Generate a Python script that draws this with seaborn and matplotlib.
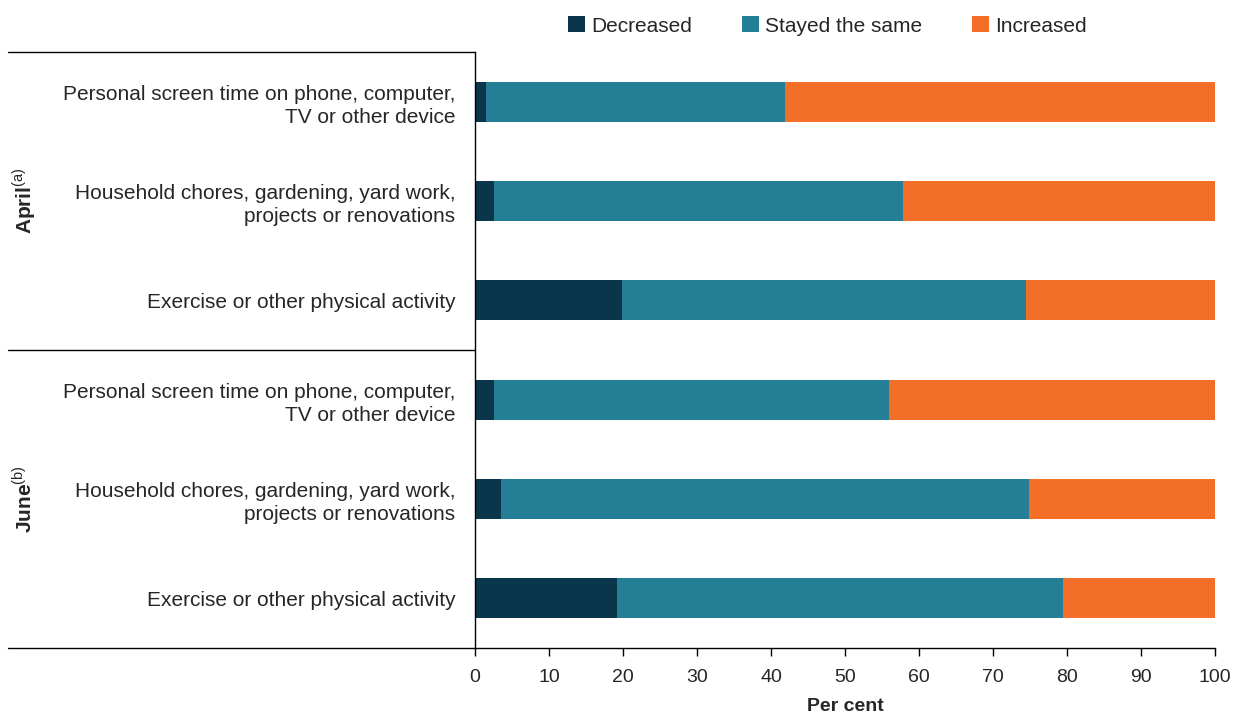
import pandas as pd
import matplotlib.pyplot as plt
import seaborn as sns

# Data
groups = ['April', 'April', 'April', 'June', 'June', 'June']
activities = [
    'Personal screen time on phone, computer,\nTV or other device',
    'Household chores, gardening, yard work,\nprojects or renovations',
    'Exercise or other physical activity',
    'Personal screen time on phone, computer,\nTV or other device',
    'Household chores, gardening, yard work,\nprojects or renovations',
    'Exercise or other physical activity',
]
decreased = [1.5, 2.5, 19.8, 2.6, 3.5, 19.2]
stayed_same = [40.4, 55.4, 54.6, 53.3, 71.3, 60.3]
increased = [58.1, 42.1, 25.6, 44.1, 25.2, 20.5]

series_names = ['Decreased', 'Stayed the same', 'Increased']
colours = ['#0a364b', '#247e96', '#f36f27']

df = pd.DataFrame({'Group': groups, 'Activity': activities,
                   'Decreased': decreased, 'Stayed the same': stayed_same,
                   'Increased': increased})
df['Row'] = [f'{g}|{i}' for i, g in enumerate(df['Group'])]
df['cum_dec'] = df['Decreased']
df['cum_same'] = df['Decreased'] + df['Stayed the same']
df['cum_inc'] = df['cum_same'] + df['Increased']

sns.set_style('ticks')
plt.rcParams['font.family'] = ['Liberation Sans', 'DejaVu Sans']
plt.rcParams['mathtext.fontset'] = 'custom'
plt.rcParams['mathtext.rm'] = 'Liberation Sans'
plt.rcParams['mathtext.bf'] = 'Liberation Sans:bold'

fig = plt.figure(figsize=(12.38, 7.16), dpi=100)
ax = fig.add_axes([475 / 1238, 1 - 648 / 716, 740 / 1238, 596 / 716])

order = list(df['Row'])
for col, name, c in zip(['cum_inc', 'cum_same', 'cum_dec'], series_names[::-1], colours[::-1]):
    sns.barplot(data=df, x=col, y='Row', order=order, orient='h', color=c,
                width=0.4, saturation=1, linewidth=0, ax=ax, label=name)

ax.set_xlim(0, 100)
ax.set_ylim(5.5, -0.5)
ax.set_xticks(range(0, 101, 10))
ax.tick_params(axis='x', labelsize=14, length=6, width=1, color='black', pad=9)
ax.set_yticks(range(len(order)))
ax.set_yticklabels(df['Activity'], fontsize=15, linespacing=1.3, ha='right')
ax.tick_params(axis='y', length=0, pad=14)
ax.set_xlabel('Per cent', fontsize=14, fontweight='bold', labelpad=9)
ax.set_ylabel('')
sns.despine(ax=ax, top=True, right=True)
for s in ['left', 'bottom']:
    ax.spines[s].set_color('black')
    ax.spines[s].set_linewidth(1)

# group separators
trans = ax.get_yaxis_transform()
x0 = (8 - 475) / 740
for yv in [-0.5, 2.5, 5.5]:
    ax.plot([x0, 0], [yv, yv], color='black', lw=1, transform=trans, clip_on=False)

# group labels
gx = (24 - 475) / 740
ax.text(gx, 1, r'$\mathbf{April}^{\mathrm{(a)}}$', rotation=90, ha='center', va='center',
        fontsize=15, transform=trans)
ax.text(gx, 4, r'$\mathbf{June}^{\mathrm{(b)}}$', rotation=90, ha='center', va='center',
        fontsize=15, transform=trans)

# legend
handles, labels = ax.get_legend_handles_labels()
hmap = dict(zip(labels, handles))
ax.legend([hmap[n] for n in series_names], series_names, loc='center',
          bbox_to_anchor=(0.476, 1 + 26 / 596), ncol=3, frameon=False, fontsize=15,
          handlelength=0.8, handleheight=0.8, handletextpad=0.3, columnspacing=2.4,
          borderaxespad=0)

fig.savefig('out.png', dpi=100)
